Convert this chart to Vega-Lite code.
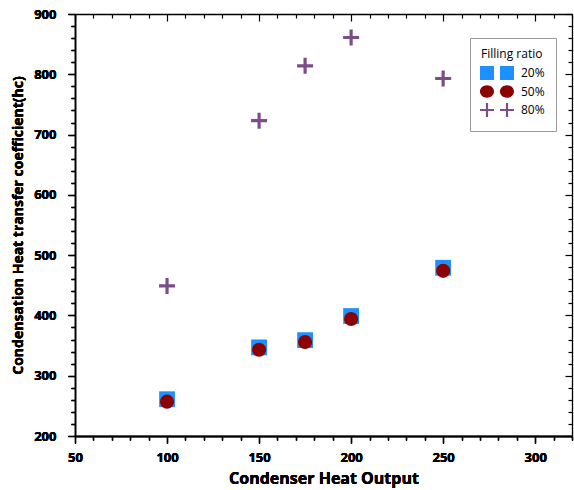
{
  "$schema": "https://vega.github.io/schema/vega-lite/v6.json",
  "width": 497,
  "height": 422,
  "autosize": {"type": "none"},
  "padding": {"left": 75, "top": 14, "right": 2, "bottom": 54},
  "background": "white",
  "config": {
    "view": {"stroke": null},
    "font": "Open Sans",
    "axis": {"grid": false, "domainColor": "black", "tickColor": "black", "domainWidth": 1.3, "tickWidth": 1.2}
  },
  "data": {
    "values": [
      {"output": 100, "h": 261, "ratio": "20%"},
      {"output": 150, "h": 347, "ratio": "20%"},
      {"output": 175, "h": 359, "ratio": "20%"},
      {"output": 200, "h": 399, "ratio": "20%"},
      {"output": 250, "h": 479, "ratio": "20%"},
      {"output": 100, "h": 257, "ratio": "50%"},
      {"output": 150, "h": 343, "ratio": "50%"},
      {"output": 175, "h": 356, "ratio": "50%"},
      {"output": 200, "h": 394, "ratio": "50%"},
      {"output": 250, "h": 474, "ratio": "50%"},
      {"output": 100, "h": 449, "ratio": "80%"},
      {"output": 150, "h": 723, "ratio": "80%"},
      {"output": 175, "h": 814, "ratio": "80%"},
      {"output": 200, "h": 861, "ratio": "80%"},
      {"output": 250, "h": 793, "ratio": "80%"}
    ]
  },
  "encoding": {
    "x": {
      "field": "output", "type": "quantitative",
      "scale": {"domain": [50, 320], "nice": false, "zero": false},
      "axis": {
        "orient": "bottom",
        "values": [50,60,70,80,90,100,110,120,130,140,150,160,170,180,190,200,210,220,230,240,250,260,270,280,290,300,310,320],
        "labelExpr": "datum.value % 50 === 0 ? datum.label : ''",
        "labelOverlap": false,
        "labelBound": false,
        "labelFlush": false,
        "tickSize": {"condition": {"test": "datum.value % 50 === 0", "value": 7}, "value": 4},
        "labelFont": "Open Sans", "labelFontWeight": "bold", "labelFontSize": 13, "labelColor": "black", "labelPadding": 8,
        "title": "Condenser Heat Output",
        "titleFont": "Open Sans", "titleFontWeight": "bold", "titleFontSize": 16, "titleColor": "black", "titlePadding": 6
      }
    },
    "y": {
      "field": "h", "type": "quantitative",
      "scale": {"domain": [200, 900], "nice": false, "zero": false},
      "axis": {
        "orient": "left",
        "values": [200,220,240,260,280,300,320,340,360,380,400,420,440,460,480,500,520,540,560,580,600,620,640,660,680,700,720,740,760,780,800,820,840,860,880,900],
        "labelExpr": "datum.value % 100 === 0 ? datum.label : ''",
        "labelOverlap": false,
        "labelBound": false,
        "labelFlush": false,
        "tickSize": {"condition": {"test": "datum.value % 100 === 0", "value": 7}, "value": 4},
        "labelFont": "Open Sans", "labelFontWeight": "bold", "labelFontSize": 13, "labelColor": "black", "labelPadding": 12,
        "title": "Condensation Heat transfer coefficient(hc)",
        "titleFont": "Open Sans", "titleFontWeight": "bold", "titleFontSize": 14, "titleColor": "black", "titlePadding": 8
      }
    }
  },
  "resolve": {"axis": {"x": "independent", "y": "independent"}},
  "layer": [
    {
      "transform": [{"filter": "datum.ratio === '20%'"}],
      "mark": {"type": "point", "filled": true, "opacity": 1, "size": 250, "strokeWidth": 0, "shape": "square", "color": "#1E90FF"}
    },
    {
      "transform": [{"filter": "datum.ratio === '50%'"}],
      "mark": {"type": "point", "filled": true, "opacity": 1, "size": 200, "strokeWidth": 0, "shape": "circle", "color": "#8B0000"}
    },
    {
      "transform": [{"filter": "datum.ratio === '80%'"}],
      "mark": {"type": "point", "filled": true, "opacity": 1, "size": 256, "strokeWidth": 0, "shape": "M-1,-0.2H1V0.2H-1Z M-0.2,-1H0.2V1H-0.2Z", "color": "#7B4E8A"}
    },
    {
      "mark": {"type": "point", "filled": true, "size": 0, "strokeWidth": 0, "opacity": 1},
      "encoding": {
        "color": {
          "field": "ratio", "type": "nominal",
          "scale": {"domain": ["20%", "50%", "80%"], "range": ["#1E90FF", "#8B0000", "#7B4E8A"]},
          "legend": {
            "title": "Filling ratio",
            "orient": "none", "legendX": 395, "legendY": 24,
            "strokeColor": "#999999", "padding": 11, "fillColor": "white",
            "titleFont": "Open Sans", "titleFontSize": 12, "titleFontWeight": "normal", "titleColor": "black", "titlePadding": 6,
            "labelFont": "Open Sans", "labelFontSize": 12, "labelColor": "black", "labelOffset": 28,
            "symbolSize": 100, "rowPadding": -1.5, "symbolOpacity": 1
          }
        },
        "shape": {
          "field": "ratio", "type": "nominal",
          "scale": {"domain": ["20%", "50%", "80%"], "range": [
            "M-1.4,-1.4H1.4V1.4H-1.4Z M2.6,-1.4H5.4V1.4H2.6Z",
            "M-1.4,0A1.4,1.25 0 1,0 1.4,0A1.4,1.25 0 1,0 -1.4,0Z M2.6,0A1.4,1.25 0 1,0 5.4,0A1.4,1.25 0 1,0 2.6,0Z",
            "M-1.4,-0.22H1.4V0.22H-1.4Z M-0.22,-1.4H0.22V1.4H-0.22Z M2.6,-0.22H5.4V0.22H2.6Z M3.78,-1.4H4.22V1.4H3.78Z"
          ]}
        }
      }
    },
    {
      "mark": {"type": "point", "opacity": 0},
      "encoding": {
        "x": {
          "field": "output", "type": "quantitative",
          "scale": {"domain": [50, 320], "nice": false, "zero": false},
          "axis": {
            "orient": "top",
            "values": [50,60,70,80,90,100,110,120,130,140,150,160,170,180,190,200,210,220,230,240,250,260,270,280,290,300,310,320],
            "labels": false,
            "title": null,
            "tickSize": {"condition": {"test": "datum.value % 50 === 0", "value": -7}, "value": -4}
          }
        },
        "y": {
          "field": "h", "type": "quantitative",
          "scale": {"domain": [200, 900], "nice": false, "zero": false},
          "axis": {
            "orient": "right",
            "values": [200,220,240,260,280,300,320,340,360,380,400,420,440,460,480,500,520,540,560,580,600,620,640,660,680,700,720,740,760,780,800,820,840,860,880,900],
            "labels": false,
            "title": null,
            "tickSize": {"condition": {"test": "datum.value % 100 === 0", "value": -7}, "value": -4}
          }
        }
      }
    }
  ]
}
